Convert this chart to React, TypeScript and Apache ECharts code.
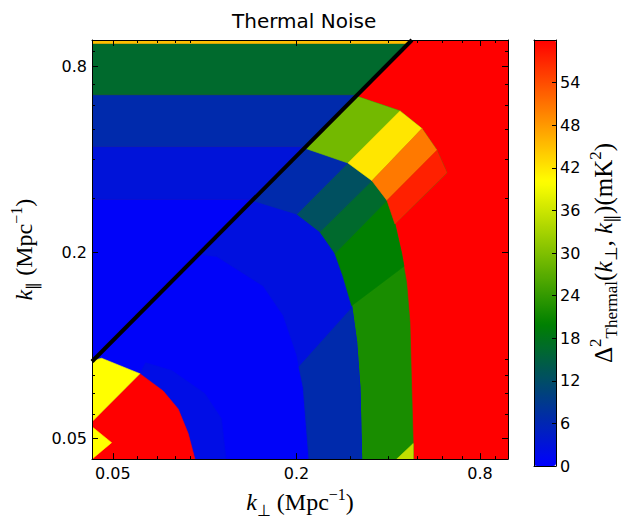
import React, { useEffect, useRef } from 'react';
import * as echarts from 'echarts';

// ---------- axes ----------
const X_RANGE = [0.0427, 0.9886];
const Y_RANGE = [0.0429, 0.9754];
const MAJOR_TICKS = [0.05, 0.2, 0.8];
const MAJOR_LABELS = ['0.05', '0.2', '0.8'];
const MINOR_TICKS = [0.06, 0.07, 0.08, 0.09, 0.3, 0.4, 0.5, 0.6, 0.7, 0.9];

// ---------- colour bar ----------
const CBAR_MIN = 0;
const CBAR_MAX = 60;
const CBAR_STEP = 6;
const CMAP = ['#0000ff', '#008000', '#ffff00', '#ff0000'];

// ---------- wedge line (k_par vs k_perp) ----------
const WEDGE = [[0.0427, 0.0888], [0.4786, 0.9754]];

// ---------- horizontal bands above the wedge ----------
const UPPER_EDGES = [0.0888, 0.2972, 0.4407, 0.6484, 0.951, 0.9754];
const UPPER_VALUES = [0.5, 3, 6.5, 16.5, 45];

// ---------- contour regions below the wedge, [k_perp, k_par] ----------
const LOWER_BASE = [[0.0427, 0.0888], [0.3135, 0.642], [0.4371, 0.575], [0.5161, 0.504], [0.5781, 0.4289], [0.6235, 0.3624], [0.4209, 0.2475], [0.4427, 0.1986], [0.4598, 0.1597], [0.4714, 0.1191], [0.4775, 0.0732], [0.4832, 0.0482], [0.4832, 0.0429], [0.0427, 0.0429]];
const INNER_BLUE = [[0.0427, 0.0888], [0.1429, 0.295], [0.2007, 0.2663], [0.2388, 0.2333], [0.2675, 0.1986], [0.2841, 0.1678], [0.3035, 0.1346], [0.3151, 0.1029], [0.3231, 0.0732], [0.3273, 0.0429], [0.0427, 0.0429]];
const NEAR_CORNER = [[0.0613, 0.0811], [0.0731, 0.0713], [0.0819, 0.0623], [0.0883, 0.0519], [0.0929, 0.0429], [0.1175, 0.0429], [0.1135, 0.0580], [0.1000, 0.0700], [0.0780, 0.0830], [0.0640, 0.0880]];
const MID_UPPER = [[0.0956, 0.1971], [0.1095, 0.1943], [0.1556, 0.1559], [0.181, 0.1251], [0.2003, 0.0933], [0.2105, 0.0732], [0.2198, 0.0429], [0.3273, 0.0429], [0.3231, 0.0732], [0.3151, 0.1029], [0.3035, 0.1346], [0.2841, 0.1678], [0.2675, 0.1986], [0.2388, 0.2333], [0.2007, 0.2663], [0.1429, 0.295]];
const MID_LOWER = [[0.2038, 0.0854], [0.3041, 0.1326], [0.3151, 0.1029], [0.3231, 0.0732], [0.3273, 0.0429], [0.2198, 0.0429], [0.2105, 0.0732]];
const GREEN_STRIPE = [[0.3963, 0.295], [0.4209, 0.2475], [0.4427, 0.1986], [0.4505, 0.1805], [0.3035, 0.1346], [0.2841, 0.1678], [0.2675, 0.1986]];
const DARKGREEN_STRIPE = [[0.3538, 0.3417], [0.3963, 0.295], [0.2675, 0.1986], [0.2388, 0.2333]];
const TEAL_STRIPE = [[0.2951, 0.3899], [0.3538, 0.3417], [0.2388, 0.2333], [0.2007, 0.2663]];
const DARKBLUE_STRIPE = [[0.1429, 0.295], [0.2133, 0.4353], [0.2951, 0.3899], [0.2007, 0.2663]];
const YGREEN_STRIPE = [[0.3135, 0.642], [0.4371, 0.575], [0.2951, 0.3899], [0.2133, 0.4353]];
const YELLOW_STRIPE = [[0.4371, 0.575], [0.5161, 0.504], [0.3538, 0.3417], [0.2951, 0.3899]];
const ORANGE_STRIPE = [[0.5161, 0.504], [0.5781, 0.4289], [0.3963, 0.295], [0.3538, 0.3417]];
const REDORANGE_STRIPE = [[0.5781, 0.4289], [0.6235, 0.3624], [0.4209, 0.2475], [0.3963, 0.295]];
const CORNER_RED = [[0.0427, 0.0567], [0.0613, 0.0811], [0.0731, 0.0713], [0.0819, 0.0623], [0.0883, 0.0519], [0.0929, 0.0429], [0.0427, 0.0429]];
const CORNER_YELLOW_A = [[0.0427, 0.0893], [0.0459, 0.091], [0.0613, 0.0811], [0.0427, 0.0567]];
const CORNER_YELLOW_B = [[0.0427, 0.0546], [0.0495, 0.0485], [0.0427, 0.0429]];
const BOTTOM_YGREEN = [[0.4263, 0.0429], [0.4832, 0.0482], [0.4832, 0.0429]];

const lg = Math.log10;

function wedgeXAt(kpar: number) {
  const [[x0, y0], [x1, y1]] = WEDGE;
  const t = (lg(kpar) - lg(y0)) / (lg(y1) - lg(y0));
  return Math.pow(10, lg(x0) + t * (lg(x1) - lg(x0)));
}

const FULL = [[X_RANGE[0], Y_RANGE[0]], [X_RANGE[1], Y_RANGE[0]], [X_RANGE[1], Y_RANGE[1]], [X_RANGE[0], Y_RANGE[1]]];

const REGIONS: { pts: number[][]; v: number }[] = [
  { pts: FULL, v: 60 },
  { pts: LOWER_BASE, v: 22 },
  { pts: INNER_BLUE, v: 0.5 },
  { pts: MID_UPPER, v: 2.5 },
  { pts: NEAR_CORNER, v: 2 },
  { pts: MID_LOWER, v: 6.5 },
  { pts: GREEN_STRIPE, v: 20 },
  { pts: DARKGREEN_STRIPE, v: 16.5 },
  { pts: TEAL_STRIPE, v: 12.5 },
  { pts: DARKBLUE_STRIPE, v: 6.5 },
  { pts: YGREEN_STRIPE, v: 29 },
  { pts: YELLOW_STRIPE, v: 42 },
  { pts: ORANGE_STRIPE, v: 50.5 },
  { pts: REDORANGE_STRIPE, v: 57.5 },
  { pts: CORNER_RED, v: 60 },
  { pts: CORNER_YELLOW_A, v: 40 },
  { pts: CORNER_YELLOW_B, v: 40 },
  { pts: BOTTOM_YGREEN, v: 35 },
];
UPPER_VALUES.forEach((v, i) => {
  const a = UPPER_EDGES[i];
  const b = UPPER_EDGES[i + 1];
  REGIONS.push({ pts: [[X_RANGE[0], a], [wedgeXAt(a), a], [wedgeXAt(b), b], [X_RANGE[0], b]], v });
});

const SANS = 'DejaVu Sans';
const SERIF = 'Liberation Serif';

const mathRich = (size: number) => ({
  i: { fontFamily: SERIF, fontStyle: 'italic', fontSize: size, lineHeight: size + 8, color: '#000' },
  t: { fontFamily: SERIF, fontSize: size, lineHeight: size + 8, color: '#000' },
  sub: { fontFamily: SERIF, fontSize: Math.round(size * 0.68), lineHeight: Math.round(size * 0.75), verticalAlign: 'bottom', color: '#000' },
  sup: { fontFamily: SERIF, fontSize: Math.round(size * 0.68), lineHeight: Math.round(size * 0.75), verticalAlign: 'top', color: '#000' },
});

const majorLabel = (v: number) => {
  const i = MAJOR_TICKS.findIndex((t) => Math.abs(lg(t) - v) < 1e-6);
  return i >= 0 ? MAJOR_LABELS[i] : '';
};

const black = { color: '#000', width: 1 };

function mainAxis(range: number[], position: string, opts: any) {
  return {
    type: 'value',
    gridIndex: 0,
    position,
    min: lg(range[0]),
    max: lg(range[1]),
    z: 10,
    splitLine: { show: false },
    axisLine: { show: opts.line, onZero: false, lineStyle: black },
    axisTick: {
      show: true,
      inside: true,
      length: opts.minor ? 3 : 6,
      customValues: (opts.minor ? MINOR_TICKS : MAJOR_TICKS).map(lg),
      lineStyle: black,
    },
    axisLabel: opts.labels
      ? { show: true, customValues: MAJOR_TICKS.map(lg), formatter: majorLabel, color: '#000', fontFamily: SANS, fontSize: 16, margin: opts.margin }
      : { show: false },
    ...(opts.extra || {}),
  };
}

export default function App() {
  const ref = useRef<HTMLDivElement>(null);
  useEffect(() => {
    if (!ref.current) return;
    const chart = echarts.init(ref.current, undefined, { renderer: 'svg' });
    chart.setOption({
      animation: false,
      backgroundColor: '#fff',
      title: {
        text: 'Thermal Noise',
        left: 227,
        top: 6,
        textStyle: { fontFamily: SANS, fontSize: 20, fontWeight: 'normal', color: '#000' },
      },
      grid: [
        { left: 92, top: 40, width: 416, height: 426 },
        { left: 534, top: 40, width: 22, height: 426 },
      ],
      xAxis: [
        mainAxis(X_RANGE, 'bottom', {
          line: true, labels: true, margin: 6,
          extra: {
            name: '{i|k}{sub|⊥}{t| (Mpc}{sup|−1}{t|)}',
            nameLocation: 'middle',
            nameGap: 25,
            nameTextStyle: { rich: mathRich(24) },
          },
        }),
        mainAxis(X_RANGE, 'bottom', { line: false, minor: true }),
        mainAxis(X_RANGE, 'top', { line: true }),
        mainAxis(X_RANGE, 'top', { line: false, minor: true }),
        { type: 'value', gridIndex: 1, position: 'bottom', min: 0, max: 1, z: 10, splitLine: { show: false }, axisTick: { show: false }, axisLabel: { show: false }, axisLine: { show: true, onZero: false, lineStyle: black } },
        { type: 'value', gridIndex: 1, position: 'top', min: 0, max: 1, z: 10, splitLine: { show: false }, axisTick: { show: false }, axisLabel: { show: false }, axisLine: { show: true, onZero: false, lineStyle: black } },
      ],
      yAxis: [
        mainAxis(Y_RANGE, 'left', {
          line: true, labels: true, margin: 5,
          extra: {
            name: '{i|k}{sub|∥}{t| (Mpc}{sup|−1}{t|)}',
            nameLocation: 'middle',
            nameGap: 46,
            nameRotate: 90,
            nameTextStyle: { rich: mathRich(24) },
          },
        }),
        mainAxis(Y_RANGE, 'left', { line: false, minor: true }),
        mainAxis(Y_RANGE, 'right', { line: true }),
        mainAxis(Y_RANGE, 'right', { line: false, minor: true }),
        { type: 'value', gridIndex: 1, position: 'left', min: CBAR_MIN, max: CBAR_MAX, z: 10, splitLine: { show: false }, axisTick: { show: false }, axisLabel: { show: false }, axisLine: { show: true, onZero: false, lineStyle: black } },
        {
          type: 'value', gridIndex: 1, position: 'right', min: CBAR_MIN, max: CBAR_MAX, interval: CBAR_STEP, z: 10,
          splitLine: { show: false },
          axisLine: { show: true, onZero: false, lineStyle: black },
          axisTick: { show: true, inside: true, length: 4, lineStyle: black },
          axisLabel: { show: true, margin: 4, color: '#000', fontFamily: SANS, fontSize: 16, formatter: (v: number) => (v >= CBAR_MAX - 0.01 ? '' : String(v)) },
          name: '{t|Δ}{sup|2}{sub|Thermal}{t|(}{i|k}{sub|⊥}{t|, }{i|k}{sub|∥}{t|)(mK}{sup|2}{t|)}',
          nameLocation: 'middle',
          nameGap: 31,
          nameRotate: 90,
          nameTextStyle: { rich: mathRich(25) },
        },
      ],
      visualMap: {
        type: 'continuous',
        min: CBAR_MIN,
        max: CBAR_MAX,
        dimension: 1,
        seriesIndex: 0,
        inRange: { color: CMAP },
        left: 534,
        top: 40,
        itemWidth: 22,
        itemHeight: 426,
        padding: 0,
        calculable: false,
        hoverLink: false,
        z: 4,
      },
      series: [
        {
          type: 'custom',
          xAxisIndex: 0,
          yAxisIndex: 0,
          clip: true,
          silent: true,
          data: REGIONS.map((r, i) => [i, r.v]),
          renderItem: (params: any, api: any) => {
            const idx = api.value(0);
            const r = REGIONS[idx];
            const pts = r.pts.map((p) => api.coord([lg(p[0]), lg(p[1])]));
            const c = api.visual('color');
            return {
              type: 'polygon',
              z2: idx,
              shape: { points: pts },
              style: { fill: c, stroke: c, lineWidth: 0.6 },
            };
          },
        },
        {
          type: 'line',
          xAxisIndex: 0,
          yAxisIndex: 0,
          silent: true,
          symbol: 'none',
          z: 5,
          clip: true,
          lineStyle: { color: '#000', width: 4 },
          data: WEDGE.map((p) => [lg(p[0]), lg(p[1])]),
        },
      ],
    });
    return () => chart.dispose();
  }, []);
  return <div ref={ref} style={{ position: 'absolute', left: 0, top: 0, width: 627, height: 523 }} />;
}
